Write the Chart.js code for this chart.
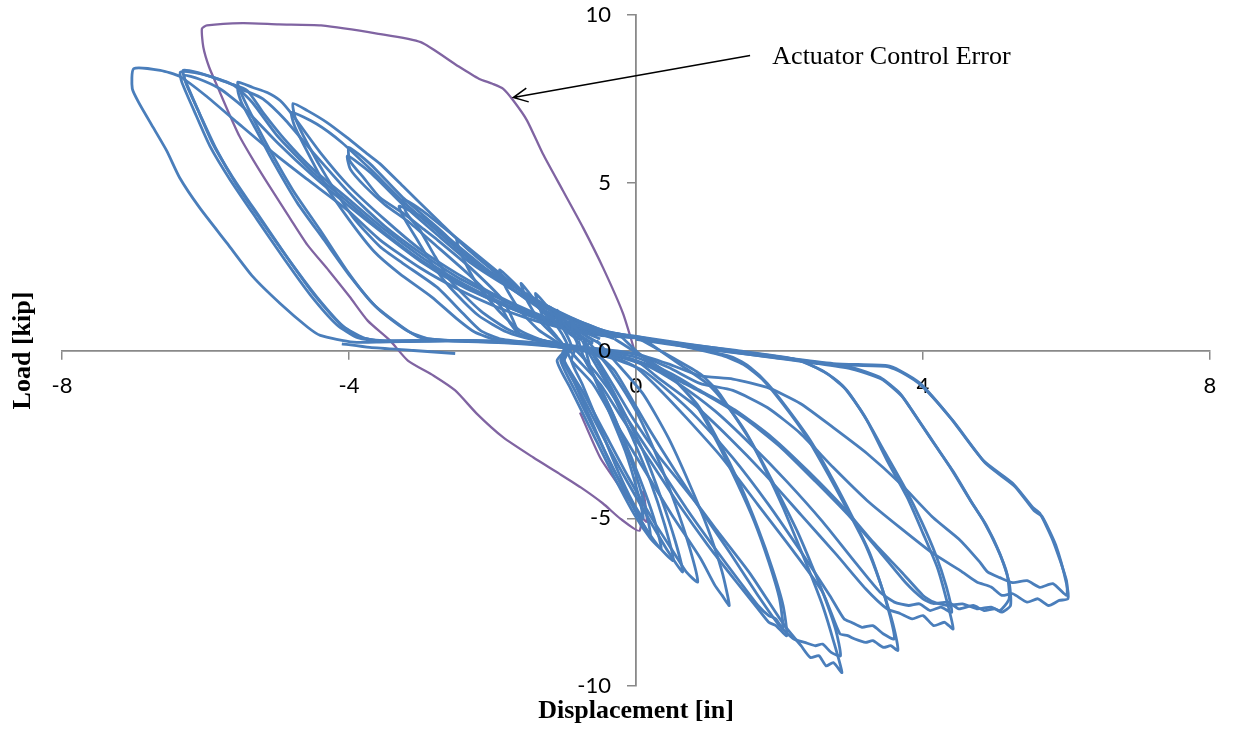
<!DOCTYPE html>
<html>
<head>
<meta charset="utf-8">
<script src="https://cdn.jsdelivr.net/npm/chart.js@4.4.1/dist/chart.umd.min.js"></script>
<style>
  html, body { margin: 0; padding: 0; background: #fff; }
  #wrap { width: 1233px; height: 731px; }
</style>
</head>
<body>
<div id="wrap"><canvas id="chart" width="1233" height="731"></canvas></div>
<script>
// axis ticks
const xTicks = [-8, -4, 0, 4, 8];
const yTicks = [-10, -5, 0, 5, 10];

// load-displacement cycles [disp in, load kip]
const cycleA = [[-0.5,0.2],[-0.7,0.45],[-0.85,0.7],[-0.9,0.9],[-0.88,0.5],[-0.82,0.2],[-0.9,-0.3],[-0.75,-1.0],[-0.5,-2.3],[-0.25,-3.6],[-0.05,-4.5],[0.1,-5.0],[0.02,-4.2],[-0.15,-3.0],[-0.4,-1.7],[-0.62,-0.6],[-0.7,0.1],[-0.6,0.3]];
const cycleB = [[-0.6,0.3],[-0.85,0.65],[-1.05,1.0],[-1.2,1.3],[-1.15,0.9],[-1.02,0.45],[-0.95,0.1],[-1.1,-0.3],[-0.92,-1.1],[-0.62,-2.4],[-0.32,-3.7],[-0.02,-4.9],[0.2,-5.6],[0.35,-5.9],[0.25,-5.0],[0.05,-3.8],[-0.2,-2.5],[-0.5,-1.1],[-0.75,-0.1],[-0.8,0.3]];
const cycleC = [[-0.8,0.3],[-1.05,0.7],[-1.3,1.2],[-1.6,2.0],[-1.52,1.5],[-1.35,0.9],[-1.12,0.4],[-0.98,0.05],[-1.02,-0.3],[-0.8,-1.15],[-0.5,-2.4],[-0.15,-3.8],[0.2,-5.1],[0.45,-6.0],[0.65,-6.6],[0.55,-5.7],[0.35,-4.4],[0.1,-3.0],[-0.2,-1.7],[-0.5,-0.5],[-0.72,0.3]];
const cycle01 = [[-0.6,0.2],[-0.8,0.5],[-1.0,0.9],[-1.1,1.2],[-1.05,0.8],[-0.95,0.4],[-0.9,0.1],[-1.0,-0.3],[-0.85,-1.0],[-0.6,-2.2],[-0.35,-3.4],[-0.1,-4.4],[0.05,-5.0],[0.2,-5.5],[0.12,-4.6],[-0.05,-3.4],[-0.3,-2.0],[-0.55,-0.9],[-0.75,-0.1],[-0.7,0.3]];
const cycle02 = [[-0.7,0.3],[-0.9,0.6],[-1.1,1.0],[-1.25,1.35],[-1.4,1.7],[-1.35,1.3],[-1.25,0.8],[-1.1,0.4],[-1.0,0.1],[-1.05,-0.3],[-0.85,-1.2],[-0.55,-2.5],[-0.25,-3.8],[0.05,-5.0],[0.3,-5.8],[0.52,-6.26],[0.4,-5.2],[0.2,-3.9],[-0.05,-2.6],[-0.35,-1.2],[-0.65,-0.1],[-0.75,0.3]];
const cycle03 = [[-0.75,0.3],[-1.0,0.65],[-1.3,1.15],[-1.6,1.8],[-1.9,2.4],[-1.82,1.9],[-1.62,1.2],[-1.35,0.6],[-1.1,0.25],[-0.95,0.0],[-1.0,-0.3],[-0.75,-1.2],[-0.45,-2.4],[-0.1,-3.8],[0.25,-5.1],[0.55,-6.1],[0.7,-6.6],[0.86,-6.9],[0.75,-5.9],[0.55,-4.6],[0.3,-3.2],[0.0,-1.8],[-0.35,-0.6],[-0.6,0.1],[-0.7,0.35]];
const cycle04 = [[-0.5,0.35],[-0.9,0.7],[-1.3,1.2],[-1.7,1.8],[-2.1,2.6],[-2.35,3.05],[-2.5,3.3],[-2.42,2.8],[-2.22,2.0],[-1.92,1.2],[-1.62,0.6],[-1.3,0.3],[-1.0,0.1],[-0.9,-0.3],[-0.6,-1.0],[-0.3,-2.1],[0.1,-3.5],[0.5,-4.9],[0.9,-6.2],[1.1,-7.0],[1.2,-7.3],[1.3,-7.6],[1.2,-6.6],[1.0,-5.3],[0.75,-4.0],[0.45,-2.6],[0.1,-1.3],[-0.3,-0.3],[-0.55,0.3]];
const cycle05 = [[-0.3,0.4],[-0.7,0.7],[-1.1,1.1],[-1.5,1.6],[-1.9,2.3],[-2.3,3.0],[-2.7,3.7],[-3.0,4.2],[-3.25,4.5],[-3.2,4.1],[-3.01,3.58],[-2.8,2.8],[-2.59,2.09],[-2.17,1.19],[-1.76,0.6],[-1.4,0.35],[-1.0,0.15],[-0.8,-0.3],[-0.5,-1.0],[-0.2,-2.0],[0.2,-3.3],[0.6,-4.6],[1.0,-5.8],[1.4,-6.9],[1.7,-7.7],[1.85,-8.1],[1.95,-8.2],[2.1,-8.5],[2.05,-7.6],[1.9,-6.5],[1.7,-5.3],[1.45,-4.0],[1.15,-2.7],[0.85,-1.6],[0.5,-0.8],[0.1,-0.2],[-0.3,0.35]];
const cycle06 = [[-0.3,0.35],[-0.7,0.65],[-1.1,1.0],[-1.5,1.5],[-1.9,2.1],[-2.3,2.8],[-2.7,3.5],[-3.0,4.0],[-3.3,4.3],[-3.22,3.9],[-3.05,3.3],[-2.85,2.6],[-2.6,1.9],[-2.2,1.05],[-1.8,0.55],[-1.4,0.3],[-0.9,0.1],[-0.7,-0.3],[-0.4,-1.1],[-0.1,-2.1],[0.3,-3.4],[0.7,-4.7],[1.1,-5.9],[1.45,-6.9],[1.7,-7.6],[1.85,-7.9],[1.95,-8.0],[2.05,-8.3],[2.0,-7.4],[1.85,-6.3],[1.65,-5.1],[1.4,-3.9],[1.1,-2.6],[0.8,-1.5],[0.45,-0.7],[0.05,-0.1],[-0.2,0.4]];
const cycle07 = [[-0.2,0.4],[-0.46,0.6],[-0.92,0.98],[-1.38,1.49],[-1.85,2.09],[-2.31,2.77],[-2.77,3.67],[-3.25,4.56],[-3.71,5.57],[-4.0,6.05],[-3.99,5.66],[-3.8,5.16],[-3.57,4.56],[-3.25,4.1],[-2.95,3.6],[-2.77,3.3],[-2.31,2.47],[-1.85,1.49],[-1.71,0.89],[-1.62,0.5],[-1.3,0.3],[-0.9,0.12],[-0.6,-0.1],[-0.5,-0.4],[-0.3,-1.1],[-0.05,-2.0],[0.3,-3.1],[0.6,-3.9],[0.89,-4.68],[1.13,-5.37],[1.59,-6.65],[2.05,-8.14],[2.3,-8.8],[2.43,-9.15],[2.55,-9.1],[2.65,-9.4],[2.75,-9.3],[2.87,-9.6],[2.75,-8.64],[2.61,-7.66],[2.43,-6.65],[2.24,-5.66],[2.05,-4.68],[1.83,-3.67],[1.59,-2.68],[1.35,-1.88],[1.13,-1.19],[0.89,-0.69],[0.5,-0.2],[0,0.4]];
const cycle08 = [[0,0.4],[-0.46,0.58],[-0.92,0.92],[-1.38,1.4],[-1.85,1.98],[-2.31,2.62],[-2.77,3.45],[-3.25,4.35],[-3.7,5.3],[-4.02,5.8],[-3.98,5.4],[-3.78,4.9],[-3.5,4.35],[-3.15,3.8],[-2.8,3.15],[-2.35,2.3],[-1.9,1.35],[-1.75,0.8],[-1.6,0.45],[-1.2,0.25],[-0.8,0.1],[-0.5,-0.2],[-0.3,-0.6],[-0.1,-1.3],[0.2,-2.4],[0.55,-3.6],[0.95,-4.9],[1.3,-6.0],[1.7,-7.3],[2.0,-8.2],[2.2,-8.6],[2.35,-8.7],[2.5,-8.8],[2.6,-8.75],[2.72,-9.0],[2.85,-9.1],[2.78,-8.3],[2.62,-7.3],[2.45,-6.4],[2.25,-5.4],[2.02,-4.4],[1.78,-3.4],[1.52,-2.4],[1.25,-1.6],[1.0,-1.0],[0.6,-0.4],[0.1,0.35]];
const cycle09 = [[0.1,0.35],[-0.46,0.6],[-0.92,1.0],[-1.38,1.5],[-1.85,2.15],[-2.31,2.95],[-2.77,3.9],[-3.25,4.9],[-3.57,5.57],[-3.75,5.87],[-4.03,6.35],[-4.31,6.8],[-4.58,7.15],[-4.78,7.36],[-4.75,6.94],[-4.58,6.17],[-4.31,5.16],[-3.94,3.96],[-3.57,3.1],[-3.25,2.6],[-2.77,1.88],[-2.41,1.1],[-2.17,0.6],[-1.9,0.35],[-1.4,0.22],[-0.8,0.05],[-0.3,-0.2],[0.0,-0.5],[0.3,-1.1],[0.7,-2.0],[1.2,-3.2],[1.7,-4.6],[2.2,-6.0],[2.6,-7.2],[2.84,-8.44],[2.95,-8.5],[3.05,-8.6],[3.2,-8.7],[3.3,-8.65],[3.45,-8.85],[3.55,-8.8],[3.65,-8.94],[3.58,-8.14],[3.44,-7.15],[3.26,-6.05],[3.02,-4.98],[2.75,-3.87],[2.43,-2.68],[2.1,-1.7],[1.83,-0.98],[1.59,-0.5],[1.35,-0.2],[0.7,0.12],[0,0.42]];
const cycle10 = [[0,0.42],[-0.46,0.58],[-0.92,0.95],[-1.38,1.42],[-1.85,2.0],[-2.31,2.7],[-2.77,3.55],[-3.25,4.45],[-3.7,5.4],[-4.1,6.2],[-4.45,6.75],[-4.8,7.1],[-4.76,6.7],[-4.6,6.0],[-4.35,5.0],[-4.0,3.9],[-3.65,2.95],[-3.3,2.3],[-2.85,1.6],[-2.5,0.95],[-2.25,0.55],[-1.95,0.32],[-1.4,0.2],[-0.8,0.02],[-0.3,-0.25],[0.1,-0.6],[0.45,-1.2],[0.85,-2.0],[1.35,-3.2],[1.85,-4.6],[2.3,-6.0],[2.7,-7.3],[2.9,-8.0],[3.0,-8.1],[3.15,-8.25],[3.3,-8.2],[3.45,-8.45],[3.6,-8.6],[3.54,-7.9],[3.4,-6.9],[3.2,-5.8],[2.96,-4.8],[2.68,-3.7],[2.37,-2.55],[2.05,-1.6],[1.78,-0.9],[1.5,-0.42],[1.2,-0.15],[0.6,0.15],[0,0.4]];
const cycle11 = [[0,0.4],[-0.5,0.55],[-1.0,0.8],[-1.5,1.2],[-2.0,1.7],[-2.5,2.3],[-3.0,3.0],[-3.5,3.9],[-4.0,4.9],[-4.4,5.9],[-4.78,7.0],[-4.96,7.45],[-5.14,7.69],[-5.34,7.84],[-5.55,8.0],[-5.52,7.75],[-5.34,6.94],[-5.1,5.96],[-4.78,4.77],[-4.4,3.58],[-4.03,2.38],[-3.67,1.4],[-3.25,0.69],[-3.01,0.39],[-2.6,0.3],[-1.8,0.25],[-1.0,0.1],[-0.4,-0.1],[0,-0.3],[0.3,-0.8],[0.8,-1.6],[1.3,-2.6],[1.8,-3.7],[2.3,-4.9],[2.8,-6.1],[3.2,-7.1],[3.5,-7.7],[3.68,-7.84],[3.85,-8.0],[4.0,-7.9],[4.15,-8.2],[4.3,-8.1],[4.42,-8.3],[4.33,-7.45],[4.2,-6.47],[4.0,-5.45],[3.78,-4.38],[3.5,-3.28],[3.22,-2.09],[2.94,-1.19],[2.66,-0.69],[2.29,-0.3],[1.5,-0.05],[0.7,0.2],[0,0.42]];
const cycle12 = [[0,0.42],[-0.5,0.5],[-1.0,0.78],[-1.5,1.15],[-2.0,1.65],[-2.5,2.2],[-3.0,2.9],[-3.5,3.7],[-4.0,4.7],[-4.5,5.9],[-4.9,6.9],[-5.2,7.5],[-5.4,7.7],[-5.55,7.8],[-5.5,7.4],[-5.3,6.6],[-5.05,5.6],[-4.72,4.4],[-4.35,3.3],[-3.98,2.2],[-3.6,1.25],[-3.2,0.6],[-2.9,0.35],[-2.4,0.28],[-1.6,0.22],[-0.9,0.06],[-0.3,-0.15],[0.2,-0.5],[0.6,-1.0],[1.1,-1.8],[1.6,-2.8],[2.1,-3.9],[2.6,-5.1],[3.05,-6.3],[3.4,-7.2],[3.6,-7.5],[3.8,-7.6],[3.95,-7.55],[4.1,-7.75],[4.25,-7.65],[4.4,-7.8],[4.32,-7.0],[4.18,-6.1],[3.98,-5.1],[3.75,-4.1],[3.46,-3.0],[3.17,-1.9],[2.88,-1.05],[2.6,-0.6],[2.2,-0.25],[1.4,0.0],[0.7,0.18],[0,0.4]];
const cycle13 = [[0,0.4],[-0.5,0.5],[-1.0,0.75],[-1.5,1.1],[-2.0,1.55],[-2.5,2.1],[-3.0,2.8],[-3.5,3.6],[-4.0,4.5],[-4.5,5.4],[-4.9,6.3],[-5.2,7.1],[-5.42,7.75],[-5.66,7.96],[-5.9,8.14],[-6.12,8.29],[-6.31,8.35],[-6.29,8.1],[-6.12,7.24],[-5.9,6.17],[-5.62,5.16],[-5.24,3.96],[-4.86,2.77],[-4.5,1.7],[-4.13,0.8],[-3.85,0.4],[-3.57,0.3],[-2.8,0.3],[-1.8,0.25],[-1.0,0.12],[-0.4,-0.05],[0,-0.2],[0.5,-0.7],[0.9,-1.2],[1.4,-1.8],[1.9,-2.6],[2.4,-3.6],[2.9,-4.7],[3.3,-5.7],[3.7,-6.6],[4.0,-7.3],[4.15,-7.5],[4.35,-7.6],[4.55,-7.55],[4.75,-7.7],[4.95,-7.65],[5.07,-7.75],[5.2,-7.4],[5.17,-6.65],[5.03,-5.87],[4.84,-5.07],[4.66,-4.47],[4.38,-3.49],[4.1,-2.59],[3.82,-1.7],[3.68,-1.28],[3.4,-0.8],[3.0,-0.5],[2.5,-0.35],[1.8,-0.15],[0.9,0.1],[0,0.4]];
const cycle14 = [[0,0.4],[-0.5,0.5],[-1.0,0.7],[-1.5,1.05],[-2.0,1.5],[-2.5,2.0],[-3.0,2.65],[-3.5,3.45],[-4.0,4.3],[-4.5,5.2],[-5.0,6.2],[-5.5,7.3],[-5.8,7.8],[-6.1,8.1],[-6.3,8.2],[-6.26,7.9],[-6.08,7.05],[-5.85,6.0],[-5.57,4.95],[-5.2,3.8],[-4.82,2.65],[-4.45,1.6],[-4.08,0.72],[-3.8,0.38],[-3.5,0.27],[-2.6,0.28],[-1.6,0.2],[-0.9,0.06],[-0.3,-0.12],[0.2,-0.45],[0.6,-0.9],[1.0,-1.35],[1.5,-2.0],[2.0,-2.85],[2.5,-3.9],[3.0,-5.0],[3.4,-6.0],[3.75,-6.9],[4.0,-7.4],[4.14,-7.54],[4.35,-7.5],[4.5,-7.7],[4.7,-7.6],[4.85,-7.75],[5.0,-7.7],[5.1,-7.8],[5.22,-7.6],[5.2,-6.9],[5.07,-6.05],[4.88,-5.2],[4.7,-4.6],[4.42,-3.6],[4.13,-2.7],[3.85,-1.8],[3.7,-1.35],[3.42,-0.85],[3.0,-0.55],[2.5,-0.38],[1.8,-0.18],[0.9,0.08],[0,0.38]];
const cycle15 = [[0,0.38],[-0.5,0.45],[-1.0,0.65],[-1.5,0.95],[-2.0,1.35],[-2.5,1.85],[-3.0,2.45],[-3.57,3.3],[-4.03,4.2],[-4.58,5.1],[-5.06,5.9],[-5.56,6.8],[-6.0,7.6],[-6.36,8.17],[-6.63,8.35],[-7.0,8.4],[-7.02,7.8],[-6.92,7.35],[-6.73,6.65],[-6.54,5.95],[-6.36,5.15],[-6.08,4.25],[-5.7,3.2],[-5.34,2.2],[-4.96,1.4],[-4.58,0.7],[-4.4,0.45],[-3.94,0.25],[-3.57,0.25],[-2.5,0.3],[-1.5,0.25],[-0.5,0.05],[0,-0.1],[0.45,-0.4],[0.89,-0.75],[1.35,-0.85],[1.83,-1.1],[2.29,-1.58],[2.75,-2.3],[3.22,-3.07],[3.68,-3.96],[4.14,-4.98],[4.52,-5.66],[4.79,-6.3],[4.9,-6.6],[5.07,-6.77],[5.25,-6.92],[5.45,-6.86],[5.63,-7.06],[5.81,-6.95],[6.0,-7.3],[6.0,-6.86],[5.81,-5.66],[5.63,-4.86],[5.53,-4.68],[5.25,-3.96],[4.84,-3.28],[4.38,-2.0],[3.96,-0.98],[3.68,-0.6],[3.5,-0.45],[2.75,-0.39],[1.83,-0.15],[0.89,0.09],[0,0.35]];
const cycle16 = [[0,0.4],[-0.5,0.48],[-1.0,0.7],[-1.5,1.05],[-2.0,1.5],[-2.5,2.05],[-3.0,2.7],[-3.5,3.5],[-4.0,4.4],[-4.5,5.3],[-5.0,6.4],[-5.35,7.4],[-5.6,7.9],[-5.9,8.15],[-6.15,8.28],[-6.35,8.3],[-6.33,8.0],[-6.16,7.15],[-5.94,6.1],[-5.66,5.1],[-5.28,3.9],[-4.9,2.72],[-4.54,1.66],[-4.17,0.77],[-3.88,0.38],[-3.55,0.28],[-2.5,0.3],[-1.5,0.22],[-0.5,0.02],[0,-0.12],[0.45,-0.5],[0.89,-0.98],[1.35,-1.19],[1.83,-1.7],[2.29,-2.47],[2.75,-3.49],[3.22,-4.47],[3.68,-5.28],[4.14,-6.05],[4.52,-6.56],[4.75,-6.9],[4.95,-7.05],[5.1,-7.3],[5.25,-7.25],[5.45,-7.5],[5.6,-7.4],[5.75,-7.6],[5.9,-7.45],[6.02,-7.4],[6.0,-6.95],[5.85,-5.8],[5.66,-4.95],[5.55,-4.78],[5.28,-4.05],[4.88,-3.38],[4.42,-2.1],[3.98,-1.05],[3.7,-0.65],[3.5,-0.48],[2.75,-0.42],[1.83,-0.18],[0.9,0.06],[0,0.33]];
const endTrail = [[-4.1,0.2],[-3.71,0.09],[-3.1,0.0],[-2.52,-0.09]];

// actuator control error excursion
const controlError = [[0,-0.15],[-0.18,1.1],[-0.46,2.47],[-0.74,3.67],[-1.02,4.77],[-1.3,5.87],[-1.52,6.86],[-1.71,7.45],[-1.85,7.8],[-2.0,7.95],[-2.19,8.1],[-2.49,8.49],[-3.0,9.19],[-3.59,9.44],[-4.39,9.69],[-4.98,9.72],[-5.48,9.76],[-5.98,9.69],[-6.05,9.59],[-6.03,9.04],[-5.95,8.45],[-5.83,7.85],[-5.68,7.1],[-5.53,6.4],[-5.33,5.66],[-5.08,4.8],[-4.83,3.97],[-4.58,3.15],[-4.28,2.38],[-3.99,1.6],[-3.74,0.89],[-3.43,0.3],[-3.18,-0.3],[-2.82,-0.75],[-2.52,-1.19],[-2.22,-1.88],[-1.85,-2.59],[-1.43,-3.19],[-1.07,-3.67],[-0.77,-4.08],[-0.46,-4.56],[-0.22,-5.01],[0.05,-5.37],[0.1,-4.2],[0.15,-5.1],[0.05,-4.9],[-0.22,-4.08],[-0.5,-3.19],[-0.78,-1.85]];

// annotation anchors (data units)
const arrowFrom = [1.59, 8.79];
const arrowTo = [-1.71, 7.54];
const noteAt = [1.9, 8.55];
const noteText = 'Actuator Control Error';

const BLUE = '#4a7ebb';
const PURPLE = '#8064a2';
const AXIS = '#898989';

const blueCycles = [cycleA, cycleB, cycleC, cycle01, cycle02, cycle03, cycle04, cycle05, cycle06, cycle07, cycle08,
  cycle09, cycle10, cycle11, cycle12, cycle13, cycle14, cycle15, cycle16, endTrail];

const toPts = arr => arr.map(([x, y]) => ({ x, y }));

const datasets = blueCycles.map(c => ({
  data: toPts(c),
  borderColor: BLUE,
  borderWidth: 2.8,
  pointRadius: 0,
  showLine: true,
  tension: 0.2,
  fill: false
}));
datasets.push({
  data: toPts(controlError),
  borderColor: PURPLE,
  borderWidth: 2.3,
  pointRadius: 0,
  showLine: true,
  tension: 0.2,
  fill: false
});

const extras = {
  id: 'extras',
  afterDatasetsDraw(chart) {
    const { ctx, scales: { x, y } } = chart;
    ctx.save();
    // y tick labels sit left of the crossing axis
    const axisX = x.getPixelForValue(0);
    ctx.fillStyle = '#000';
    ctx.font = '22px Lato';
    ctx.textAlign = 'right';
    ctx.textBaseline = 'middle';
    yTicks.forEach(v => ctx.fillText(String(v), axisX - 25, y.getPixelForValue(v)));
    // arrow
    const x0 = x.getPixelForValue(arrowFrom[0]), y0 = y.getPixelForValue(arrowFrom[1]);
    const x1 = x.getPixelForValue(arrowTo[0]), y1 = y.getPixelForValue(arrowTo[1]);
    ctx.strokeStyle = '#000';
    ctx.lineWidth = 1.5;
    ctx.beginPath();
    ctx.moveTo(x0, y0);
    ctx.lineTo(x1, y1);
    const ang = Math.atan2(y0 - y1, x0 - x1);
    const head = 16;
    ctx.moveTo(x1 + head * Math.cos(ang + 0.45), y1 + head * Math.sin(ang + 0.45));
    ctx.lineTo(x1, y1);
    ctx.lineTo(x1 + head * Math.cos(ang - 0.45), y1 + head * Math.sin(ang - 0.45));
    ctx.stroke();
    // note
    ctx.font = '26px "Liberation Serif"';
    ctx.textAlign = 'left';
    ctx.textBaseline = 'alphabetic';
    ctx.fillText(noteText, x.getPixelForValue(noteAt[0]), y.getPixelForValue(noteAt[1]));
    ctx.restore();
  },
  afterDraw(chart) {
    const { ctx, chartArea } = chart;
    ctx.save();
    ctx.fillStyle = '#000';
    ctx.font = 'bold 26px "Liberation Serif"';
    ctx.textAlign = 'center';
    ctx.textBaseline = 'middle';
    ctx.fillText('Displacement [in]', (chartArea.left + chartArea.right) / 2, 711);
    ctx.translate(23, (chartArea.top + chartArea.bottom) / 2);
    ctx.rotate(-Math.PI / 2);
    ctx.fillText('Load [kip]', 0, 0);
    ctx.restore();
  }
};

new Chart(document.getElementById('chart'), {
  type: 'scatter',
  data: { datasets },
  options: {
    responsive: false,
    animation: false,
    layout: { padding: { left: 62, right: 23, top: 15, bottom: 45 } },
    plugins: { legend: { display: false }, tooltip: { enabled: false } },
    scales: {
      x: {
        type: 'linear',
        position: { y: 0 },
        min: -8, max: 8,
        afterBuildTicks: s => { s.ticks = xTicks.map(v => ({ value: v })); },
        grid: { drawOnChartArea: false, drawTicks: true, tickLength: 8, color: AXIS, lineWidth: 1.5 },
        border: { display: true, color: AXIS, width: 1.8 },
        ticks: { color: '#000', font: { family: 'Lato', size: 22 }, padding: 14, maxRotation: 0 }
      },
      y: {
        type: 'linear',
        position: { x: 0 },
        min: -10, max: 10,
        afterBuildTicks: s => { s.ticks = yTicks.map(v => ({ value: v })); },
        grid: { drawOnChartArea: false, drawTicks: true, tickLength: 8, color: AXIS, lineWidth: 1.5 },
        border: { display: true, color: AXIS, width: 1.8 },
        ticks: { display: false, font: { family: 'Lato', size: 22 } }
      }
    }
  },
  plugins: [extras]
});
</script>
</body>
</html>
